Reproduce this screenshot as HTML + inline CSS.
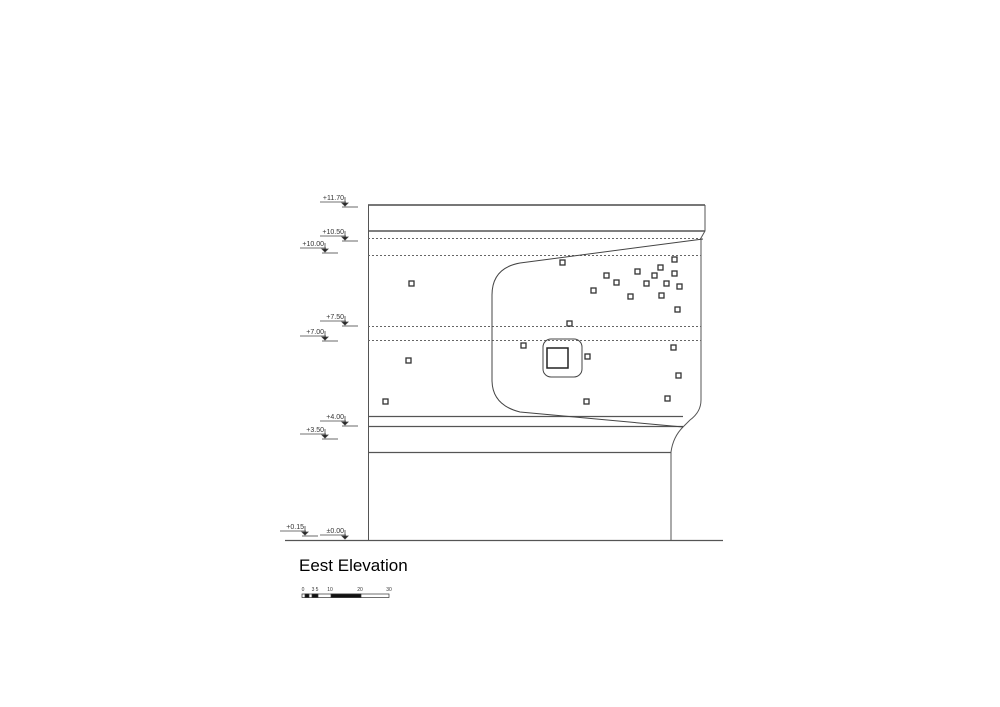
<!DOCTYPE html>
<html><head><meta charset="utf-8"><style>
html,body{margin:0;padding:0;background:#fff;}
svg{display:block}
text{font-family:"Liberation Sans",sans-serif;}
</style></head><body>
<svg width="1000" height="707" viewBox="0 0 1000 707" xmlns="http://www.w3.org/2000/svg">
<rect width="1000" height="707" fill="#fff"/>
<g fill="none" stroke="#555" stroke-width="1">
  <!-- building outline -->
  <line x1="368" y1="205" x2="705" y2="205" stroke-width="2" stroke="#777"/>
  <line x1="368.5" y1="205" x2="368.5" y2="540"/>
  <path d="M705 205 L705 231 L701 238 L701 400 Q701 412 690 420 L683 427 Q673 437 671 452 L671 540"/>
  <line x1="368" y1="231" x2="705" y2="231" stroke-width="1.5"/>
  <line x1="368" y1="416.5" x2="683" y2="416.5" stroke-width="1.2"/>
  <line x1="368" y1="426.5" x2="683" y2="426.5" stroke-width="1.2"/>
  <line x1="368" y1="452.5" x2="671" y2="452.5" stroke-width="1.2"/>
  <line x1="285" y1="540.5" x2="723" y2="540.5" stroke-width="1.2"/>
  <!-- dashed -->
  <g stroke-dasharray="2,2" stroke="#666">
    <line x1="368" y1="238.5" x2="701" y2="238.5"/>
    <line x1="368" y1="255.5" x2="701" y2="255.5"/>
    <line x1="368" y1="326.5" x2="701" y2="326.5"/>
    <line x1="368" y1="340.5" x2="701" y2="340.5"/>
  </g>
  <!-- panel -->
  <path d="M703 239 L520 263 Q492 268 492 295 L492 380 Q492 405 520 412 L683 427" stroke="#444"/>
  <!-- window -->
  <rect x="543" y="339" width="39" height="38" rx="8" stroke="#444"/>
  <rect x="547" y="348" width="21" height="20" stroke="#222" stroke-width="1.5"/>
  <!-- small squares -->
  <g stroke="#333" stroke-width="1.3">
    <rect x="409" y="281" width="5" height="5"/>
    <rect x="406" y="358" width="5" height="5"/>
    <rect x="383" y="399" width="5" height="5"/>
    <rect x="560" y="260" width="5" height="5"/>
    <rect x="604" y="273" width="5" height="5"/>
    <rect x="635" y="269" width="5" height="5"/>
    <rect x="658" y="265" width="5" height="5"/>
    <rect x="672" y="257" width="5" height="5"/>
    <rect x="591" y="288" width="5" height="5"/>
    <rect x="614" y="280" width="5" height="5"/>
    <rect x="628" y="294" width="5" height="5"/>
    <rect x="644" y="281" width="5" height="5"/>
    <rect x="652" y="273" width="5" height="5"/>
    <rect x="664" y="281" width="5" height="5"/>
    <rect x="672" y="271" width="5" height="5"/>
    <rect x="677" y="284" width="5" height="5"/>
    <rect x="659" y="293" width="5" height="5"/>
    <rect x="675" y="307" width="5" height="5"/>
    <rect x="567" y="321" width="5" height="5"/>
    <rect x="521" y="343" width="5" height="5"/>
    <rect x="585" y="354" width="5" height="5"/>
    <rect x="671" y="345" width="5" height="5"/>
    <rect x="676" y="373" width="5" height="5"/>
    <rect x="584" y="399" width="5" height="5"/>
    <rect x="665" y="396" width="5" height="5"/>
  </g>
</g>
<!-- level markers -->
<g font-size="7" fill="#333">
  <g transform="translate(345,202)"><text x="-1" y="-2" text-anchor="end">+11.70</text></g>
  <g transform="translate(345,236)"><text x="-1" y="-2" text-anchor="end">+10.50</text></g>
  <g transform="translate(325,248)"><text x="-1" y="-2" text-anchor="end">+10.00</text></g>
  <g transform="translate(345,321)"><text x="-1" y="-2" text-anchor="end">+7.50</text></g>
  <g transform="translate(325,336)"><text x="-1" y="-2" text-anchor="end">+7.00</text></g>
  <g transform="translate(345,421)"><text x="-1" y="-2" text-anchor="end">+4.00</text></g>
  <g transform="translate(325,434)"><text x="-1" y="-2" text-anchor="end">+3.50</text></g>
  <g transform="translate(305,531)"><text x="-1" y="-2" text-anchor="end">+0.15</text></g>
  <g transform="translate(345,535)"><text x="-1" y="-2" text-anchor="end">±0.00</text></g>
</g>
<g stroke="#444" stroke-width="0.8" fill="#222">
  <g transform="translate(345,202)"><line x1="-25" y1="0" x2="1" y2="0"/><line x1="0" y1="-5" x2="0" y2="4"/><polygon points="-3,1 3,1 0,4"/><line x1="-3" y1="5" x2="13" y2="5"/></g>
  <g transform="translate(345,236)"><line x1="-25" y1="0" x2="1" y2="0"/><line x1="0" y1="-5" x2="0" y2="4"/><polygon points="-3,1 3,1 0,4"/><line x1="-3" y1="5" x2="13" y2="5"/></g>
  <g transform="translate(325,248)"><line x1="-25" y1="0" x2="1" y2="0"/><line x1="0" y1="-5" x2="0" y2="4"/><polygon points="-3,1 3,1 0,4"/><line x1="-3" y1="5" x2="13" y2="5"/></g>
  <g transform="translate(345,321)"><line x1="-25" y1="0" x2="1" y2="0"/><line x1="0" y1="-5" x2="0" y2="4"/><polygon points="-3,1 3,1 0,4"/><line x1="-3" y1="5" x2="13" y2="5"/></g>
  <g transform="translate(325,336)"><line x1="-25" y1="0" x2="1" y2="0"/><line x1="0" y1="-5" x2="0" y2="4"/><polygon points="-3,1 3,1 0,4"/><line x1="-3" y1="5" x2="13" y2="5"/></g>
  <g transform="translate(345,421)"><line x1="-25" y1="0" x2="1" y2="0"/><line x1="0" y1="-5" x2="0" y2="4"/><polygon points="-3,1 3,1 0,4"/><line x1="-3" y1="5" x2="13" y2="5"/></g>
  <g transform="translate(325,434)"><line x1="-25" y1="0" x2="1" y2="0"/><line x1="0" y1="-5" x2="0" y2="4"/><polygon points="-3,1 3,1 0,4"/><line x1="-3" y1="5" x2="13" y2="5"/></g>
  <g transform="translate(305,531)"><line x1="-25" y1="0" x2="1" y2="0"/><line x1="0" y1="-5" x2="0" y2="4"/><polygon points="-3,1 3,1 0,4"/><line x1="-3" y1="5" x2="13" y2="5"/></g>
  <g transform="translate(345,535)"><line x1="-25" y1="0" x2="1" y2="0"/><line x1="0" y1="-5" x2="0" y2="4"/><polygon points="-3,1 3,1 0,4"/></g>
</g>
<!-- title -->
<text x="299" y="571" font-size="17" fill="#000">Eest Elevation</text>
<!-- scale bar -->
<g font-size="5" fill="#333" text-anchor="middle">
  <text x="303" y="591">0</text><text x="313" y="591">3</text><text x="317" y="591">5</text>
  <text x="330" y="591">10</text><text x="360" y="591">20</text><text x="389" y="591">30</text>
</g>
<g stroke="#333" stroke-width="0.7">
  <rect x="302" y="594" width="87" height="3.5" fill="#fff"/>
  <rect x="305" y="594" width="4" height="3.5" fill="#111"/>
  <rect x="312" y="594" width="6" height="3.5" fill="#111"/>
  <rect x="331" y="594" width="30" height="3.5" fill="#111"/>
</g>
</svg>
</body></html>
